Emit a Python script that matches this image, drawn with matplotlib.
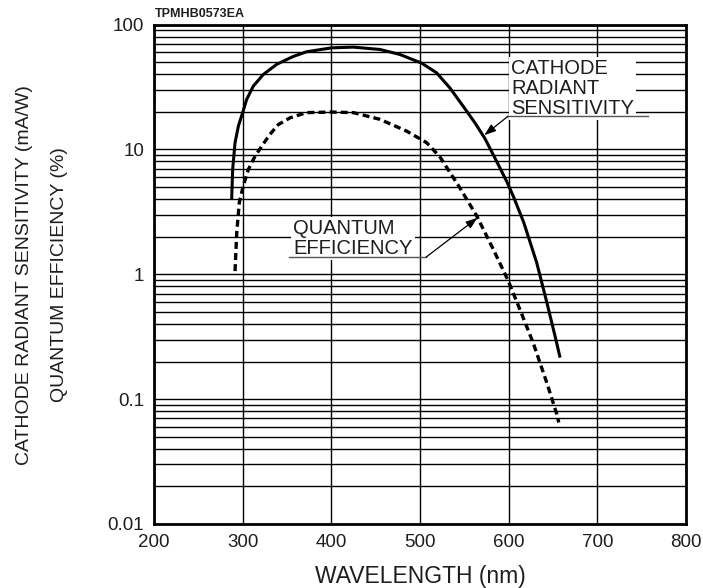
import matplotlib
matplotlib.use("Agg")
import matplotlib.pyplot as plt
from matplotlib.ticker import FixedLocator, NullFormatter, LogLocator

plt.rcParams['font.family'] = ['Liberation Sans', 'DejaVu Sans']
plt.rcParams['lines.scale_dashes'] = False

# ---- data ----
cathode_wl = [287.6, 288.7, 291.4, 295.2, 300, 304.5, 312, 323.3, 338.4, 357.1,
              372.1, 400.2, 424.7, 454.9, 477.4, 502, 518.8, 533.8, 550, 562,
              573, 586.5, 598, 605.3, 617, 631.6, 642.9, 652.3, 658]
cathode_sens = [4.0, 6.9, 11.3, 15.4, 19.7, 25.1, 32.1, 39.8, 48.0, 55.5,
                60.5, 65, 65.9, 63.1, 57.5, 49, 41, 31.0, 21.5, 16.3,
                12.3, 8.0, 5.5, 4.2, 2.6, 1.24, 0.6, 0.32, 0.215]

qe_wl = [291.4, 293.3, 296.2, 300.7, 306.4, 313.9, 321.5, 330.8, 340.2, 353.4,
         372.2, 400.4, 424.8, 454.8, 485, 507.6, 522.5, 545.1, 564, 582.7,
         599.7, 612.8, 627.8, 642.9, 654.2, 656.5]
qe_vals = [1.06, 2.15, 3.75, 5.1, 6.9, 8.8, 10.6, 13.2, 15.8, 17.9,
           19.7, 19.9, 19.7, 17.4, 14.0, 11.3, 8.7, 4.9, 2.93, 1.58,
           0.88, 0.52, 0.28, 0.136, 0.076, 0.065]

x_ticks = [200, 300, 400, 500, 600, 700, 800]
y_ticks = [0.01, 0.1, 1, 10, 100]
y_tick_labels = ["0.01", "0.1", "1", "10", "100"]

cathode_label = "CATHODE\nRADIANT\nSENSITIVITY"
qe_label = "QUANTUM\nEFFICIENCY"
code_label = "TPMHB0573EA"
x_title = "WAVELENGTH (nm)"
y_title = "CATHODE RADIANT SENSITIVITY (mA/W)\nQUANTUM EFFICIENCY (%)"

TXT = '#1e1e1e'

fig = plt.figure(figsize=(7.03, 5.88), dpi=100)
ax = fig.add_axes([154/703, 64/588, 532/703, 499.5/588])

ax.set_yscale('log')
ax.set_xlim(200, 800)
ax.set_ylim(0.01, 100)

ax.xaxis.set_major_locator(FixedLocator(x_ticks))
ax.yaxis.set_major_locator(FixedLocator(y_ticks))
ax.set_yticklabels(y_tick_labels)
ax.yaxis.set_minor_locator(LogLocator(base=10, subs=range(2, 10)))
ax.yaxis.set_minor_formatter(NullFormatter())

ax.set_axisbelow(True)
ax.grid(True, which='both', axis='y', color='black', linewidth=1.0)
ax.grid(True, which='major', axis='x', color='black', linewidth=1.0)

ax.tick_params(which='both', length=0, labelsize=13.5, labelcolor=TXT)
ax.tick_params(axis='y', pad=7)
ax.tick_params(axis='x', pad=7)
for s in ax.spines.values():
    s.set_linewidth(2.0)
    s.set_color('black')

ax.plot(cathode_wl, cathode_sens, color='black', linewidth=2.2,
        solid_capstyle='butt', solid_joinstyle='round', zorder=3)
ax.plot(qe_wl, qe_vals, color='black', linewidth=2.4, linestyle=(0, (5, 3)),
        dash_capstyle='butt', zorder=3)

# annotations with underline + leader arrow
def labelled(text, text_xy, ul_x0, ul_x1, ul_y, lead_x, tip):
    ax.text(text_xy[0], text_xy[1], text, fontsize=14.5, color=TXT,
            ha='left', va='baseline', linespacing=1.05, zorder=4,
            bbox=dict(boxstyle='square,pad=0.12', facecolor='white', edgecolor='none'))
    ax.plot([ul_x0, ul_x1], [ul_y, ul_y], color='#555555', linewidth=1.0, zorder=5)
    ax.annotate('', xy=tip, xytext=(lead_x, ul_y),
                arrowprops=dict(arrowstyle='-|>,head_length=0.7,head_width=0.25',
                                color='black', linewidth=0.9, shrinkA=0, shrinkB=0),
                zorder=5)

labelled(cathode_label, (602.6, 19.3), 598.1, 757.1, 18.4, 599.2, (572.5, 13.0))
labelled(qe_label, (356.8, 1.46), 352.3, 506.8, 1.37, 506.8, (564.8, 2.83))

fig.text(155/703, 1 - 14/588, code_label, fontsize=9, color=TXT,
         ha='left', va='center', fontweight='bold')
fig.text(420/703, 1 - 576/588, x_title, fontsize=16.5, color=TXT,
         ha='center', va='center')
fig.text(42/703, 1 - 275/588, y_title, fontsize=14, color=TXT, rotation=90,
         ha='center', va='center', multialignment='center', linespacing=2.45)

fig.savefig('out.png', dpi=100)
